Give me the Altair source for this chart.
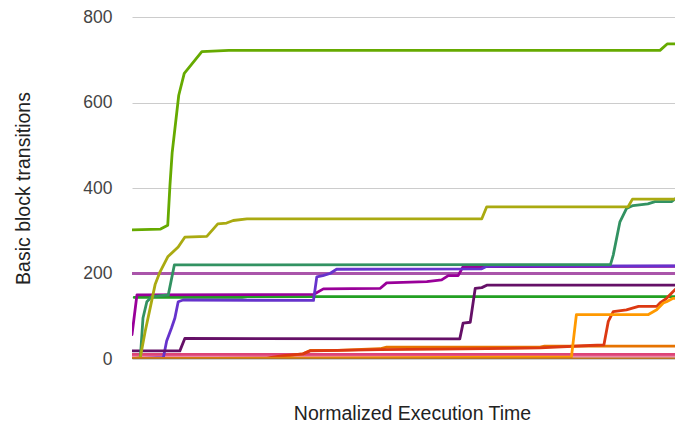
import altair as alt
import pandas as pd

# x: normalized execution time (0-100), y: basic block transitions
lightpink_x = [0, 100]
lightpink_y = [6, 6]

pink_x = [0, 100]
pink_y = [11, 11]

lilac_x = [0, 100]
lilac_y = [200, 200]

green_x = [0.4, 20, 21, 100]
green_y = [144, 144, 146, 146]

magenta_x = [0, 0.9, 33, 34.8, 45.1, 46.3, 53.6, 56.3, 57.5, 59.3, 60.2, 100]
magenta_y = [57, 150, 151, 164, 165, 178, 181, 185, 195, 195, 216, 217]

violet_x = [0, 5.7, 6.3, 7.2, 7.8, 8.4, 9.3, 33, 33.6, 34.7, 36, 37.2, 63.6, 64.5, 100]
violet_y = [0, 3, 42, 73, 96, 134, 138, 137, 192, 195, 200, 210, 211, 217, 218]

plum_x = [0, 8.7, 9.6, 59.6, 60.2, 61.5, 62.4, 63.6, 64.6, 100]
plum_y = [19, 19, 48, 47, 84, 86, 165, 167, 173, 173]

teal_x = [0, 1.5, 2.0, 2.7, 3.6, 6.6, 7.7, 87.0, 87.5, 88.7, 89.9, 91.1, 93.8, 95.1, 98.1, 99.3, 100]
teal_y = [0, 0, 96, 134, 146, 150, 220, 221, 243, 320, 352, 359, 363, 368, 368, 380, 382]

olive_x = [0, 1.5, 2.4, 3.3, 4.2, 5.1, 6.5, 8.4, 9.6, 13.6, 15.6, 17.2, 18.4, 20.9, 63.6, 64.5, 90.2, 91.0, 99.0, 100]
olive_y = [0, 3, 65, 119, 174, 204, 239, 262, 285, 287, 316, 318, 324, 328, 328, 356, 356, 374, 374, 420]

darkorange_x = [0, 24.5, 27.5, 31.1, 32.4, 37.3, 45.1, 46.3, 74.2, 75, 100]
darkorange_y = [0, 1, 6, 12, 20, 20, 24, 28, 28, 30, 30]

red_x = [0, 24.5, 27.5, 31.1, 32.4, 45.1, 56, 68.7, 74.2, 82.1, 85.8, 86.6, 87.5, 89.9, 92.1, 95.4, 96, 97.2, 98.4, 100]
red_y = [0, 2, 8, 12, 19, 22, 23, 25, 26, 31, 33, 88, 111, 115, 123, 123, 131, 142, 158, 177]

orange_x = [0, 79.9, 80.8, 93.9, 95.4, 96.6, 97.2, 98.4, 100]
orange_y = [0, 5, 104, 104, 115, 131, 134, 142, 142]

lime_x = [0, 5.2, 6.5, 6.9, 7.3, 8.5, 9.5, 10.5, 12.7, 17.6, 96.0, 97.3, 100]
lime_y = [302, 304, 313, 406, 482, 617, 668, 684, 719, 722, 722, 737, 737]

brown_x = [0, 100]
brown_y = [0, 0]

series = [
    ("01", lightpink_x, lightpink_y, "#ee88aa"),
    ("02", pink_x, pink_y, "#dd4477"),
    ("03", lilac_x, lilac_y, "#aa55aa"),
    ("04", green_x, green_y, "#22a022"),
    ("05", magenta_x, magenta_y, "#990099"),
    ("06", violet_x, violet_y, "#6633cc"),
    ("07", plum_x, plum_y, "#651067"),
    ("08", teal_x, teal_y, "#329262"),
    ("09", olive_x, olive_y, "#aaaa11"),
    ("10", darkorange_x, darkorange_y, "#e67300"),
    ("11", red_x, red_y, "#dc3912"),
    ("12", orange_x, orange_y, "#ff9900"),
    ("13", lime_x, lime_y, "#66aa00"),
    ("14", brown_x, brown_y, "#b77322"),
]

rows = []
for name, xs, ys, _ in series:
    for i, (x, y) in enumerate(zip(xs, ys)):
        rows.append({"s": name, "t": x, "v": y, "i": i})
df = pd.DataFrame(rows)

FONT = "Liberation Sans"

chart = (
    alt.Chart(df)
    .mark_line(strokeWidth=2.8, strokeJoin="round", strokeCap="round", clip=True)
    .encode(
        x=alt.X(
            "t:Q",
            scale=alt.Scale(domain=[0, 98.73], nice=False, zero=False),
            axis=alt.Axis(
                labels=False, ticks=False, domain=False, grid=False,
                title="Normalized Execution Time",
                titleFont=FONT, titleFontSize=19.5, titleFontWeight="normal",
                titleColor="#222222", titleBaseline="alphabetic",
                titleX=280, titleY=60,
            ),
        ),
        y=alt.Y(
            "v:Q",
            scale=alt.Scale(domain=[0, 800], nice=False),
            axis=alt.Axis(
                values=[0, 200, 400, 600, 800], domain=False, ticks=False,
                labelPadding=20, labelFont=FONT, labelFontSize=17.5,
                labelColor="#444444", gridColor="#cccccc", gridWidth=1,
                title="Basic block transitions",
                titleFont=FONT, titleFontSize=19.5, titleFontWeight="normal",
                titleColor="#222222", titleBaseline="alphabetic",
                titleX=-103, titleAngle=270,
            ),
        ),
        color=alt.Color(
            "s:N",
            scale=alt.Scale(domain=[s[0] for s in series], range=[s[3] for s in series]),
            legend=None,
        ),
        order="i:Q",
    )
    .properties(
        width=543,
        height=342,
        autosize=alt.AutoSizeParams(type="none"),
        padding={"left": 124, "top": 9, "right": 0, "bottom": 64},
    )
    .configure_view(strokeWidth=0)
)

chart.save("out.html", embed_options={"renderer": "svg", "actions": False})
